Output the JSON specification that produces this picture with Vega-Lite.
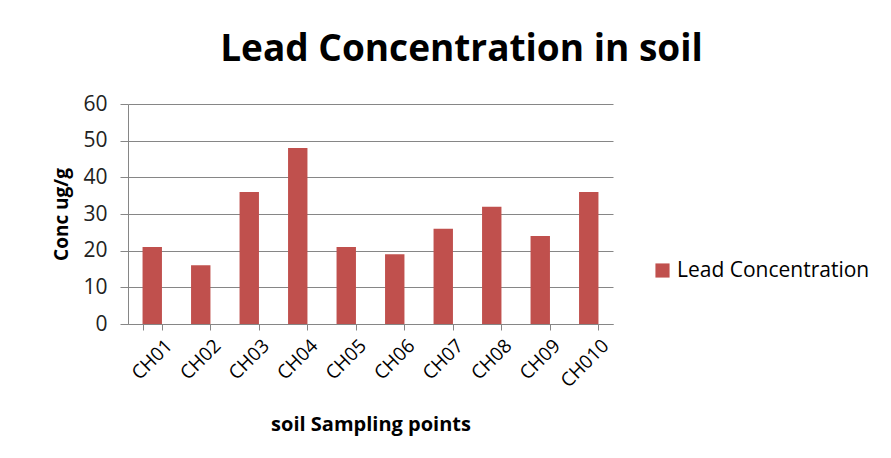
{
  "$schema": "https://vega.github.io/schema/vega-lite/v6.json",
  "width": 485,
  "height": 220,
  "padding": {"left": 52, "top": 31, "right": 5, "bottom": 10},
  "background": "white",
  "title": {
    "text": "Lead Concentration in soil",
    "font": "Open Sans",
    "fontSize": 37,
    "fontWeight": "bold",
    "color": "#000000",
    "anchor": "middle",
    "frame": "bounds",
    "offset": 24
  },
  "data": {
    "values": [
      {"point": "CH01", "conc": 21, "series": "Lead Concentration"},
      {"point": "CH02", "conc": 16, "series": "Lead Concentration"},
      {"point": "CH03", "conc": 36, "series": "Lead Concentration"},
      {"point": "CH04", "conc": 48, "series": "Lead Concentration"},
      {"point": "CH05", "conc": 21, "series": "Lead Concentration"},
      {"point": "CH06", "conc": 19, "series": "Lead Concentration"},
      {"point": "CH07", "conc": 26, "series": "Lead Concentration"},
      {"point": "CH08", "conc": 32, "series": "Lead Concentration"},
      {"point": "CH09", "conc": 24, "series": "Lead Concentration"},
      {"point": "CH010", "conc": 36, "series": "Lead Concentration"}
    ]
  },
  "mark": {"type": "bar"},
  "encoding": {
    "x": {
      "field": "point",
      "type": "nominal",
      "sort": null,
      "scale": {"paddingInner": 0.6, "paddingOuter": 0.3},
      "axis": {
        "title": "soil Sampling points",
        "titleFont": "Open Sans",
        "titleFontSize": 20,
        "titleFontWeight": "bold",
        "titleColor": "#000000",
        "titlePadding": 24,
        "labelAngle": -45,
        "labelFont": "Open Sans",
        "labelFontSize": 19,
        "labelColor": "#000000",
        "labelPadding": 6,
        "labelOffset": 10,
        "tickBand": "extent",
        "tickSize": 6,
        "tickColor": "#868686",
        "domainColor": "#868686",
        "grid": false
      }
    },
    "y": {
      "field": "conc",
      "type": "quantitative",
      "scale": {"domain": [0, 60]},
      "axis": {
        "title": "Conc ug/g",
        "titleFont": "Open Sans",
        "titleFontSize": 19,
        "titleFontWeight": "bold",
        "titleColor": "#000000",
        "titlePadding": 11,
        "values": [0, 10, 20, 30, 40, 50, 60],
        "labelFont": "Open Sans",
        "labelFontSize": 21,
        "labelColor": "#222222",
        "labelPadding": 13,
        "tickSize": 8,
        "tickColor": "#868686",
        "domainColor": "#868686",
        "gridColor": "#868686",
        "grid": true
      }
    },
    "color": {
      "field": "series",
      "type": "nominal",
      "scale": {"range": ["#C0504D"]},
      "legend": {
        "title": null,
        "orient": "none",
        "legendX": 524,
        "legendY": 156,
        "symbolType": "square",
        "symbolSize": 200,
        "symbolStrokeWidth": 0,
        "labelFont": "Open Sans",
        "labelFontSize": 21,
        "labelLimit": 400,
        "labelColor": "#000000"
      }
    }
  },
  "config": {
    "view": {"stroke": null}
  }
}
